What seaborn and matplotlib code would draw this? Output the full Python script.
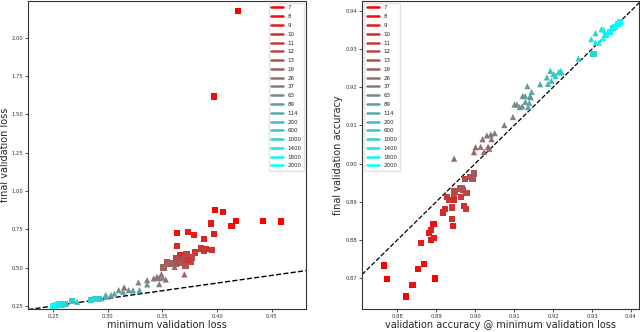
import matplotlib
matplotlib.use("Agg")
import matplotlib.pyplot as plt
import numpy as np
import pandas as pd
import seaborn as sns
from matplotlib.lines import Line2D

# legend groups (red -> gray -> cyan)
groups = ["7", "8", "9", "10", "11", "12", "13", "19", "26", "37", "63",
          "89", "114", "200", "600", "1000", "1400", "1800", "2000"]

# left panel: loss
loss_min = [0.419, 0.397, 0.398, 0.405, 0.394, 0.417, 0.413, 0.442, 0.458, 0.397,
            0.388, 0.363, 0.373, 0.379, 0.363, 0.366, 0.385, 0.390, 0.395, 0.380,
            0.377, 0.388, 0.372, 0.369, 0.362, 0.365, 0.362, 0.376, 0.371, 0.354,
            0.357, 0.351, 0.373,
            0.370, 0.361, 0.349, 0.347, 0.345, 0.353, 0.350, 0.347, 0.342, 0.336,
            0.336, 0.328, 0.315, 0.310, 0.314, 0.319, 0.323, 0.329, 0.306, 0.303,
            0.298, 0.299, 0.294, 0.291, 0.288, 0.272, 0.267, 0.261, 0.256, 0.253,
            0.251, 0.252, 0.258, 0.285, 0.250, 0.262]
loss_final = [2.173, 1.617, 0.874, 0.863, 0.789, 0.804, 0.772, 0.807, 0.802, 0.718,
              0.688, 0.724, 0.731, 0.711, 0.640, 0.579, 0.625, 0.620, 0.616, 0.599,
              0.566, 0.607, 0.586, 0.553, 0.560, 0.534, 0.527, 0.540, 0.512, 0.534,
              0.527, 0.501, 0.549,
              0.456, 0.506, 0.458, 0.432, 0.441, 0.423, 0.436, 0.393, 0.430, 0.419,
              0.391, 0.404, 0.371, 0.354, 0.343, 0.354, 0.352, 0.354, 0.332, 0.321,
              0.321, 0.311, 0.300, 0.295, 0.295, 0.278, 0.282, 0.265, 0.261, 0.256,
              0.250, 0.246, 0.258, 0.291, 0.247, 0.266]
loss_group = ["7", "8", "7", "8", "9", "7", "8", "7", "7", "9",
              "10", "8", "9", "9", "10", "10", "11", "10", "11", "11",
              "12", "11", "12", "12", "12", "13", "13", "12", "13", "13",
              "19", "19", "11",
              "19", "19", "26", "26", "26", "26", "37", "37", "26", "37",
              "63", "63", "19", "63", "89", "63", "89", "114", "114", "89",
              "114", "200", "200", "600", "1000", "200", "600", "1000", "1400", "1800",
              "2000", "1800", "1400", "1000", "2000", "600"]
loss_marker = ["s"] * 33 + ["^"] * 23 + ["s", "s", "^", "s", "s", "s", "s",
                                           "s", "s", "s", "s", "s", "^"]

# right panel: accuracy
acc_best = [0.8765, 0.8773, 0.8839, 0.8823, 0.8854, 0.8869, 0.8860, 0.8896, 0.8881, 0.8887,
            0.8887, 0.8894, 0.8893, 0.8941, 0.8944, 0.8917, 0.8922, 0.8940, 0.8928, 0.8933,
            0.8945, 0.8946, 0.8947, 0.8964, 0.8972, 0.8976, 0.8978, 0.8961, 0.8968, 0.8965,
            0.8973, 0.8987, 0.8993, 0.8998,
            0.8946, 0.8997, 0.9001, 0.9023, 0.9014, 0.9033, 0.9036, 0.9019, 0.9030, 0.9040,
            0.9050, 0.9042, 0.9075, 0.9097, 0.9101, 0.9107, 0.9114, 0.9121, 0.9122, 0.9128,
            0.9129, 0.9136, 0.9139, 0.9134, 0.9145, 0.9141, 0.9142, 0.9167, 0.9187, 0.9184,
            0.9193, 0.9196, 0.9201, 0.9206, 0.9214, 0.9219, 0.9222, 0.9265, 0.9298, 0.9309,
            0.9309, 0.9318, 0.9324, 0.9329, 0.9328,
            0.9304, 0.9336, 0.9347, 0.9354, 0.9360, 0.9367, 0.9371]
acc_final = [0.8733, 0.8697, 0.8683, 0.8652, 0.8724, 0.8737, 0.8793, 0.8699, 0.8819, 0.8826,
             0.8800, 0.8806, 0.8842, 0.8855, 0.8836, 0.8872, 0.8881, 0.8885, 0.8912, 0.8904,
             0.8904, 0.8920, 0.8927, 0.8913, 0.8889, 0.8882, 0.8923, 0.8935, 0.8930, 0.8937,
             0.8959, 0.8965, 0.8959, 0.8974,
             0.9013, 0.9030, 0.9043, 0.9031, 0.9044, 0.9044, 0.9039, 0.9064, 0.9074, 0.9076,
             0.9080, 0.9064, 0.9101, 0.9122, 0.9155, 0.9155, 0.9148, 0.9150, 0.9177, 0.9177,
             0.9162, 0.9148, 0.9159, 0.9203, 0.9188, 0.9177, 0.9174, 0.9208, 0.9209, 0.9226,
             0.9243, 0.9217, 0.9235, 0.9230, 0.9239, 0.9243, 0.9239, 0.9275, 0.9326, 0.9342,
             0.9317, 0.9317, 0.9352, 0.9352, 0.9329,
             0.9287, 0.9337, 0.9345, 0.9355, 0.9358, 0.9365, 0.9370]
acc_group = ["7", "7", "8", "7", "8", "8", "9", "7", "9", "9",
             "8", "9", "8", "10", "9", "10", "10", "11", "11", "11",
             "10", "12", "12", "11", "10", "11", "12", "13", "12", "13",
             "12", "13", "13", "13",
             "19", "19", "19", "19", "26", "19", "26", "26", "37", "26",
             "37", "26", "37", "37", "63", "63", "89", "63", "63", "89",
             "89", "114", "114", "89", "114", "114", "63", "114", "200", "200",
             "200", "200", "600", "600", "600", "1000", "600", "1000", "1400", "1000",
             "1400", "1800", "1400", "1800", "2000",
             "1000", "1800", "2000", "1400", "2000", "1800", "2000"]
acc_marker = ["s"] * 34 + ["^"] * 45 + ["s"] * 7

palette = dict(zip(groups, sns.blend_palette(["#ff0000", "#808080", "#00ffff"], len(groups))))

sns.set_style("ticks")
plt.rcParams["font.family"] = ["DejaVu Sans"]

fig = plt.figure(figsize=(6.4, 3.32), dpi=100)
ax1 = fig.add_axes([0.044, 0.069, 0.434, 0.928])
ax2 = fig.add_axes([0.566, 0.069, 0.432, 0.928])

df_loss = pd.DataFrame({"x": loss_min, "y": loss_final, "g": loss_group, "m": loss_marker})
df_acc = pd.DataFrame({"x": acc_best, "y": acc_final, "g": acc_group, "m": acc_marker})

for ax, df in [(ax1, df_loss), (ax2, df_acc)]:
    sns.scatterplot(data=df, x="x", y="y", hue="g", hue_order=groups, palette=palette,
                    style="m", markers={"s": "s", "^": "^"}, s=20, linewidth=0,
                    legend=False, ax=ax, zorder=3)

# y = x reference lines
ax1.set_xlim(0.2273, 0.481)
ax1.set_ylim(0.23, 2.24)
ax1.plot([0.2273, 0.481], [0.2273, 0.481], "k--", lw=1, zorder=2)
ax1.set_xticks([0.25, 0.30, 0.35, 0.40, 0.45])
ax1.set_yticks([0.25, 0.50, 0.75, 1.00, 1.25, 1.50, 1.75, 2.00])
ax1.xaxis.set_major_formatter(matplotlib.ticker.FormatStrFormatter("%.2f"))
ax1.yaxis.set_major_formatter(matplotlib.ticker.FormatStrFormatter("%.2f"))
ax1.set_xlabel("minimum validation loss", fontsize=7, labelpad=1)
ax1.set_ylabel("final validation loss", fontsize=7, labelpad=1)

ax2.set_xlim(0.871, 0.942)
ax2.set_ylim(0.8619, 0.9426)
ax2.plot([0.86, 0.95], [0.86, 0.95], "k--", lw=0.9, zorder=2)
ax2.set_xticks([0.88, 0.89, 0.90, 0.91, 0.92, 0.93, 0.94])
ax2.set_yticks([0.87, 0.88, 0.89, 0.90, 0.91, 0.92, 0.93, 0.94])
ax2.xaxis.set_major_formatter(matplotlib.ticker.FormatStrFormatter("%.2f"))
ax2.yaxis.set_major_formatter(matplotlib.ticker.FormatStrFormatter("%.2f"))
ax2.set_xlabel("validation accuracy @ minimum validation loss", fontsize=7, labelpad=1)
ax2.set_ylabel("final validation accuracy", fontsize=7, labelpad=2)

handles = [Line2D([0], [0], color=palette[g], lw=1.8) for g in groups]
for ax, loc in [(ax1, "upper right"), (ax2, "upper left")]:
    ax.tick_params(labelsize=3.8, length=2, width=0.6, pad=1.5, colors="#333333")
    for sp in ax.spines.values():
        sp.set_color("#333333")
        sp.set_linewidth(0.8)
    ax.legend(handles, groups, loc=loc, fontsize=4, frameon=True, handlelength=2.2,
              labelspacing=0.68, borderaxespad=0.4, fancybox=False, edgecolor="#dddddd")

fig.savefig("out.png", dpi=100)
